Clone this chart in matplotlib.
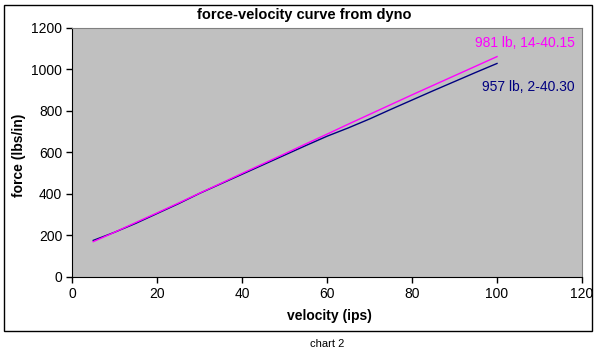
import matplotlib

matplotlib.use("Agg")
import matplotlib.pyplot as plt
from matplotlib.patches import Rectangle

plt.rcParams["font.family"] = ["Liberation Sans", "DejaVu Sans"]

# values
velocity = [5, 10, 15, 20, 25, 30, 35, 40, 45, 50,
            55, 60, 65, 70, 75, 80, 85, 90, 95, 100]
force_14_40_15 = [170, 215, 262, 308, 355, 403, 450, 498, 545, 592,
                  640, 687, 735, 782, 829, 876, 922, 968, 1014, 1060]
force_2_40_30 = [176, 215, 258, 305, 352, 402, 448, 494, 540, 586,
                 632, 677, 717, 760, 806, 851, 896, 940, 984, 1027]
label_14_40_15 = "981 lb, 14-40.15"
label_2_40_30 = "957 lb, 2-40.30"
x_ticks = [0, 20, 40, 60, 80, 100, 120]
y_ticks = [0, 200, 400, 600, 800, 1000, 1200]

W, H = 599, 352
fig = plt.figure(figsize=(W / 100, H / 100), dpi=100)
fig.patch.set_facecolor("white")

# outer chart frame
fig.patches.append(Rectangle((4 / W, 1 - 331 / H), 588 / W, 326 / H,
                             transform=fig.transFigure, fill=False,
                             edgecolor="black", linewidth=1))

ax = fig.add_axes([72 / W, 1 - 277 / H, 510 / W, 249.5 / H])
ax.set_facecolor("#C0C0C0")
ax.plot(velocity, force_2_40_30, color="#000080", linewidth=1)
ax.plot(velocity, force_14_40_15, color="#FF00FF", linewidth=1)

ax.set_xlim(0, 120)
ax.set_ylim(0, 1200)
ax.set_xticks(x_ticks)
ax.set_yticks(y_ticks)
ax.tick_params(direction="out", length=4, width=1, labelsize=10,
               colors="black", pad=3)
for side in ("top", "right"):
    ax.spines[side].set_color("#808080")
for side in ("left", "bottom"):
    ax.spines[side].set_color("black")

# series labels placed beside the line ends
fig.text(525 / W, 1 - 43 / H, label_14_40_15, color="#FF00FF",
         fontsize=10, ha="center", va="center")
fig.text(528 / W, 1 - 87 / H, label_2_40_30, color="#000080",
         fontsize=10, ha="center", va="center")

fig.text(304 / W, 1 - 15 / H, "force-velocity curve from dyno",
         fontsize=10.5, fontweight="bold", ha="center", va="center")
fig.text(329 / W, 1 - 316 / H, "velocity (ips)", fontsize=10,
         fontweight="bold", ha="center", va="center")
fig.text(19 / W, 1 - 155 / H, "force (lbs/in)", fontsize=10,
         fontweight="bold", ha="center", va="center", rotation=90)
fig.text(327 / W, 1 - 344 / H, "chart 2", fontsize=8,
         ha="center", va="center")

fig.savefig("out.png", dpi=100)
